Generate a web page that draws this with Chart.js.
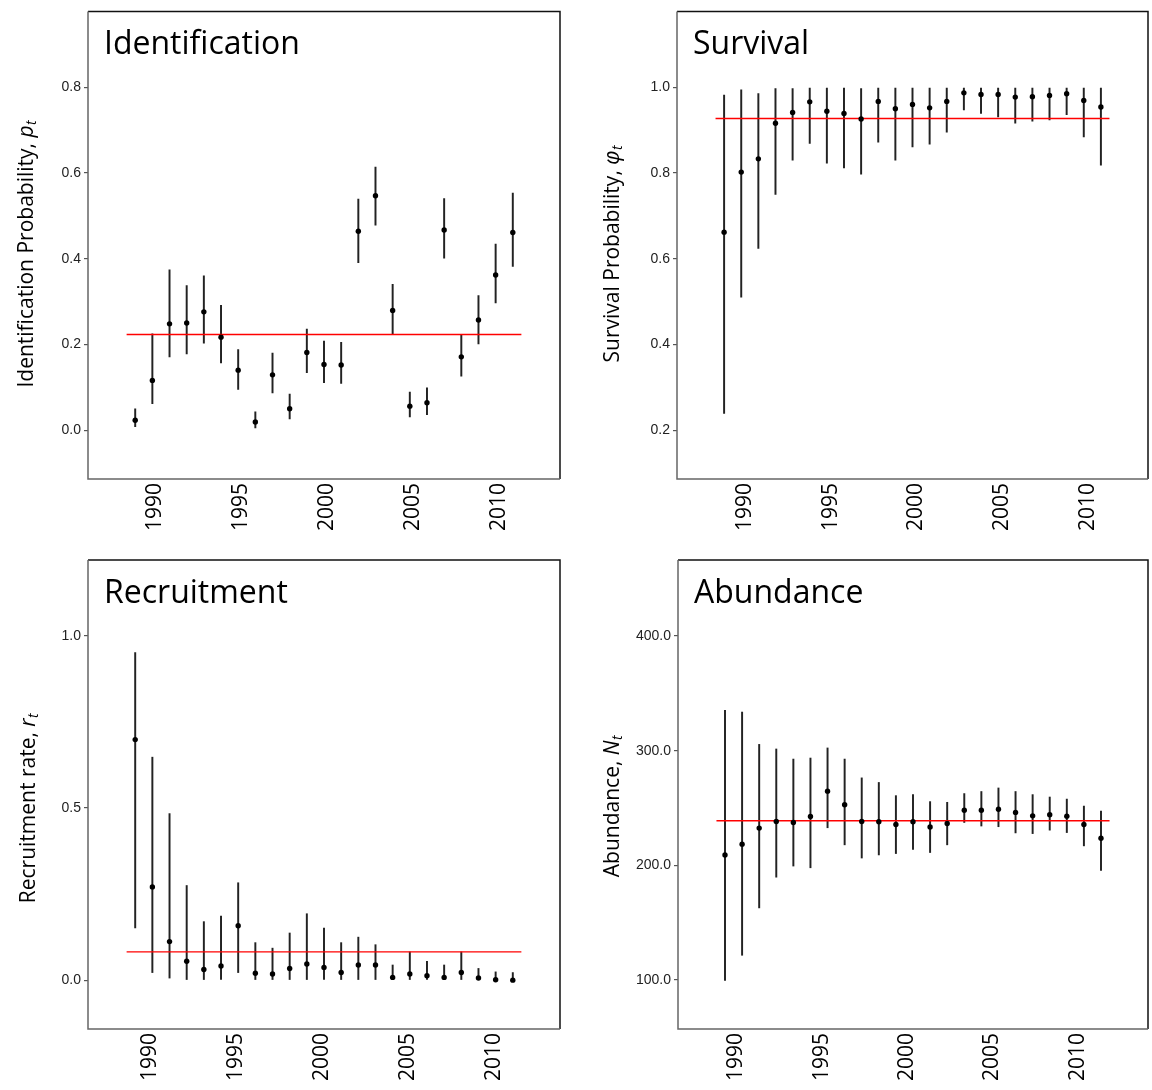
<!DOCTYPE html>
<html>
<head>
<meta charset="utf-8">
<script src="https://cdn.jsdelivr.net/npm/chart.js@4.4.1/dist/chart.umd.min.js"></script>
<style>
    body { margin: 0; background: #fff; }
    #page { position: relative; width: 1152px; height: 1090px; }
    .panel { position: absolute; width: 576px; height: 545px; }
</style>
</head>
<body>
<div id="page">
    <div class="panel" style="left:0;top:0"><canvas id="id-chart" width="576" height="545"></canvas></div>
    <div class="panel" style="left:576px;top:0"><canvas id="surv-chart" width="576" height="545"></canvas></div>
    <div class="panel" style="left:0;top:545px"><canvas id="rec-chart" width="576" height="545"></canvas></div>
    <div class="panel" style="left:576px;top:545px"><canvas id="ab-chart" width="576" height="545"></canvas></div>
</div>
<script>
// survey years
const years = [1989, 1990, 1991, 1992, 1993, 1994, 1995, 1996, 1997, 1998, 1999, 2000,
    2001, 2002, 2003, 2004, 2005, 2006, 2007, 2008, 2009, 2010, 2011];
const yearTicks = [1990, 1995, 2000, 2005, 2010];
// x span of the overall-mean line
const meanSpan = [1988.5, 2011.5];

// identification probability
const idEst = [0.023, 0.116, 0.248, 0.250, 0.276, 0.217, 0.140, 0.019, 0.129, 0.050, 0.181, 0.153,
    0.152, 0.464, 0.547, 0.279, 0.056, 0.064, 0.467, 0.171, 0.257, 0.362, 0.461];
const idLo = [0.008, 0.062, 0.171, 0.178, 0.203, 0.157, 0.095, 0.005, 0.087, 0.026, 0.134, 0.111,
    0.109, 0.391, 0.478, 0.223, 0.031, 0.036, 0.401, 0.126, 0.201, 0.297, 0.382];
const idHi = [0.050, 0.225, 0.374, 0.337, 0.360, 0.291, 0.188, 0.043, 0.180, 0.084, 0.236, 0.208,
    0.205, 0.539, 0.614, 0.340, 0.089, 0.099, 0.540, 0.223, 0.314, 0.434, 0.553];
const idMean = 0.223;
const idTicks = [0.0, 0.2, 0.4, 0.6, 0.8];

// survival probability
const survEst = [0.662, 0.802, 0.833, 0.916, 0.941, 0.966, 0.944, 0.939, 0.926, 0.967, 0.950, 0.960,
    0.952, 0.967, 0.987, 0.983, 0.983, 0.977, 0.978, 0.981, 0.985, 0.969, 0.954];
const survLo = [0.239, 0.510, 0.624, 0.750, 0.830, 0.869, 0.823, 0.812, 0.797, 0.872, 0.830, 0.861,
    0.867, 0.895, 0.947, 0.939, 0.931, 0.916, 0.921, 0.924, 0.936, 0.884, 0.818];
const survHi = [0.982, 0.994, 0.985, 0.997, 0.997, 0.998, 0.998, 0.998, 0.997, 0.998, 0.998, 0.998,
    0.998, 0.998, 0.998, 0.998, 0.998, 0.998, 0.998, 0.998, 0.998, 0.998, 0.998];
const survMean = 0.927;
const survTicks = [0.2, 0.4, 0.6, 0.8, 1.0];

// recruitment rate
const recEst = [0.699, 0.271, 0.112, 0.055, 0.031, 0.041, 0.158, 0.020, 0.018, 0.034, 0.047, 0.037,
    0.022, 0.044, 0.044, 0.008, 0.018, 0.013, 0.008, 0.022, 0.006, 0.001, 0.000];
const recLo = [0.152, 0.022, 0.006, 0, 0, 0, 0.022, 0, 0, 0, 0, 0,
    0, 0, 0, 0, 0, 0, 0, 0, 0, 0, 0];
const recHi = [0.952, 0.648, 0.484, 0.275, 0.170, 0.186, 0.283, 0.109, 0.093, 0.137, 0.193, 0.151,
    0.109, 0.125, 0.103, 0.044, 0.082, 0.055, 0.044, 0.082, 0.034, 0.024, 0.022];
const recMean = 0.082;
const recTicks = [0.0, 0.5, 1.0];

// abundance
const abEst = [209.1, 218.5, 232.5, 238.3, 237.4, 242.6, 264.7, 252.9, 238.3, 238.0, 235.6, 238.0,
    233.4, 236.5, 248.0, 248.0, 248.9, 246.2, 243.2, 244.1, 242.9, 235.6, 223.7];
const abLo = [99.7, 121.6, 162.9, 189.7, 199.4, 197.9, 232.8, 217.9, 206.4, 209.1, 210.3, 214.0,
    211.2, 217.9, 237.4, 234.3, 233.7, 228.3, 227.7, 230.7, 228.6, 217.0, 195.7];
const abHi = [335.3, 333.7, 305.5, 301.5, 292.7, 293.6, 302.4, 292.7, 276.3, 272.3, 260.8, 261.7,
    255.6, 255.0, 262.6, 264.4, 267.5, 264.4, 261.7, 259.6, 257.8, 251.7, 247.4];
const abMean = 238.9;
const abTicks = [100, 200, 300, 400];

// frame, heading and the y label with its italic symbol + subscript
const panelDecor = {
    id: 'panelDecor',
    afterDraw: function(chart, args, opts) {
        const ctx = chart.ctx;
        const a = chart.chartArea;
        ctx.save();

        ctx.lineWidth = 1.5;
        ctx.strokeStyle = '#111';
        ctx.beginPath();
        ctx.moveTo(a.left, a.top);
        ctx.lineTo(a.right, a.top);
        ctx.lineTo(a.right, a.bottom);
        ctx.stroke();
        ctx.strokeStyle = '#666';
        ctx.beginPath();
        ctx.moveTo(a.left, a.top);
        ctx.lineTo(a.left, a.bottom);
        ctx.lineTo(a.right, a.bottom);
        ctx.stroke();

        ctx.fillStyle = '#000';
        ctx.textBaseline = 'alphabetic';
        ctx.textAlign = 'left';
        ctx.font = '32px "Open Sans"';
        ctx.fillText(opts.heading, a.left + 16, a.top + 43);

        const mainFont = '21px "Open Sans"';
        const symFont = 'italic 21px "Open Sans"';
        const subFont = 'italic 14px "Open Sans"';
        ctx.font = mainFont;
        const w1 = ctx.measureText(opts.label).width;
        ctx.font = symFont;
        const w2 = ctx.measureText(opts.symbol).width;
        ctx.font = subFont;
        const w3 = ctx.measureText('t').width;
        const x0 = -(w1 + w2 + w3) / 2;

        ctx.translate(a.left - opts.labelGap, (a.top + a.bottom) / 2 + opts.labelShift);
        ctx.rotate(-Math.PI / 2);
        ctx.textBaseline = 'middle';
        ctx.font = mainFont;
        ctx.fillText(opts.label, x0, 0);
        ctx.font = symFont;
        ctx.fillText(opts.symbol, x0 + w1, 0);
        ctx.font = subFont;
        ctx.fillText('t', x0 + w1 + w2 + 0.5, 5);
        ctx.restore();
    }
};

function makePanel(canvasId, p) {
    const points = years.map(function(yr, i) { return {x: yr, y: p.est[i]}; });
    const bars = years.map(function(yr, i) { return {x: yr, y: [p.lo[i], p.hi[i]]}; });
    const meanLine = meanSpan.map(function(yr) { return {x: yr, y: p.mean}; });

    return new Chart(document.getElementById(canvasId), {
        type: 'scatter',
        data: {
            datasets: [{
                type: 'scatter',
                data: points,
                pointRadius: 2.7,
                pointBackgroundColor: '#000',
                pointBorderWidth: 0,
                order: 0
            }, {
                type: 'line',
                data: meanLine,
                borderColor: '#ff0000',
                borderWidth: 1.4,
                pointRadius: 0,
                order: 1
            }, {
                type: 'bar',
                data: bars,
                backgroundColor: '#222',
                barThickness: 1.3,
                borderWidth: 0,
                order: 2
            }]
        },
        options: {
            responsive: false,
            animation: false,
            layout: {
                padding: {top: p.box.top, right: 576 - p.box.right, left: 0, bottom: 0}
            },
            plugins: {
                legend: {display: false},
                tooltip: {enabled: false},
                panelDecor: {
                    heading: p.heading,
                    label: p.label,
                    symbol: p.symbol,
                    labelGap: p.labelGap,
                    labelShift: p.labelShift
                }
            },
            scales: {
                x: {
                    type: 'linear',
                    offset: false,
                    min: 1986.25,
                    max: 2013.75,
                    afterFit: function(scale) { scale.height = 545 - p.box.bottom; },
                    afterBuildTicks: function(scale) {
                        scale.ticks = yearTicks.map(function(v) { return {value: v}; });
                    },
                    grid: {display: false, drawTicks: false, tickLength: 0, offset: false},
                    border: {display: false},
                    ticks: {
                        autoSkip: false,
                        minRotation: 90,
                        maxRotation: 90,
                        padding: 4,
                        labelOffset: p.labelOffset,
                        color: '#000',
                        font: {family: '"Open Sans"', size: 21},
                        callback: function(v) { return String(v); }
                    }
                },
                y: {
                    type: 'linear',
                    min: p.yMin,
                    max: p.yMax,
                    afterFit: function(scale) { scale.width = p.box.left; },
                    afterBuildTicks: function(scale) {
                        scale.ticks = p.ticks.map(function(v) { return {value: v}; });
                    },
                    grid: {
                        display: true,
                        drawOnChartArea: false,
                        drawTicks: true,
                        tickLength: 4,
                        color: '#555',
                        lineWidth: 1.2
                    },
                    border: {display: false},
                    ticks: {
                        padding: 3,
                        color: '#222',
                        font: {family: '"Liberation Sans", Arial', size: 14},
                        callback: function(v) { return Number(v).toFixed(1); }
                    }
                }
            }
        },
        plugins: [panelDecor]
    });
}

document.addEventListener('DOMContentLoaded', function() {
    makePanel('id-chart', {
        heading: 'Identification', label: 'Identification Probability, ', symbol: 'p',
        est: idEst, lo: idLo, hi: idHi, mean: idMean, ticks: idTicks,
        yMin: -0.114, yMax: 0.977,
        box: {left: 88, right: 560, top: 10, bottom: 479},
        labelGap: 61, labelShift: 9, labelOffset: 3
    });
    makePanel('surv-chart', {
        heading: 'Survival', label: 'Survival Probability, ', symbol: 'φ',
        est: survEst, lo: survLo, hi: survHi, mean: survMean, ticks: survTicks,
        yMin: 0.086, yMax: 1.177,
        box: {left: 101, right: 573, top: 10, bottom: 479},
        labelGap: 64, labelShift: 9, labelOffset: 4
    });
    makePanel('rec-chart', {
        heading: 'Recruitment', label: 'Recruitment rate, ', symbol: 'r',
        est: recEst, lo: recLo, hi: recHi, mean: recMean, ticks: recTicks,
        yMin: -0.142, yMax: 1.221,
        box: {left: 88, right: 560, top: 15, bottom: 484},
        labelGap: 59, labelShift: 14, labelOffset: -2
    });
    makePanel('ab-chart', {
        heading: 'Abundance', label: 'Abundance, ', symbol: 'N',
        est: abEst, lo: abLo, hi: abHi, mean: abMean, ticks: abTicks,
        yMin: 57.3, yMax: 466.3,
        box: {left: 102, right: 574, top: 15, bottom: 484},
        labelGap: 65, labelShift: 12, labelOffset: -6
    });
});
</script>
</body>
</html>
